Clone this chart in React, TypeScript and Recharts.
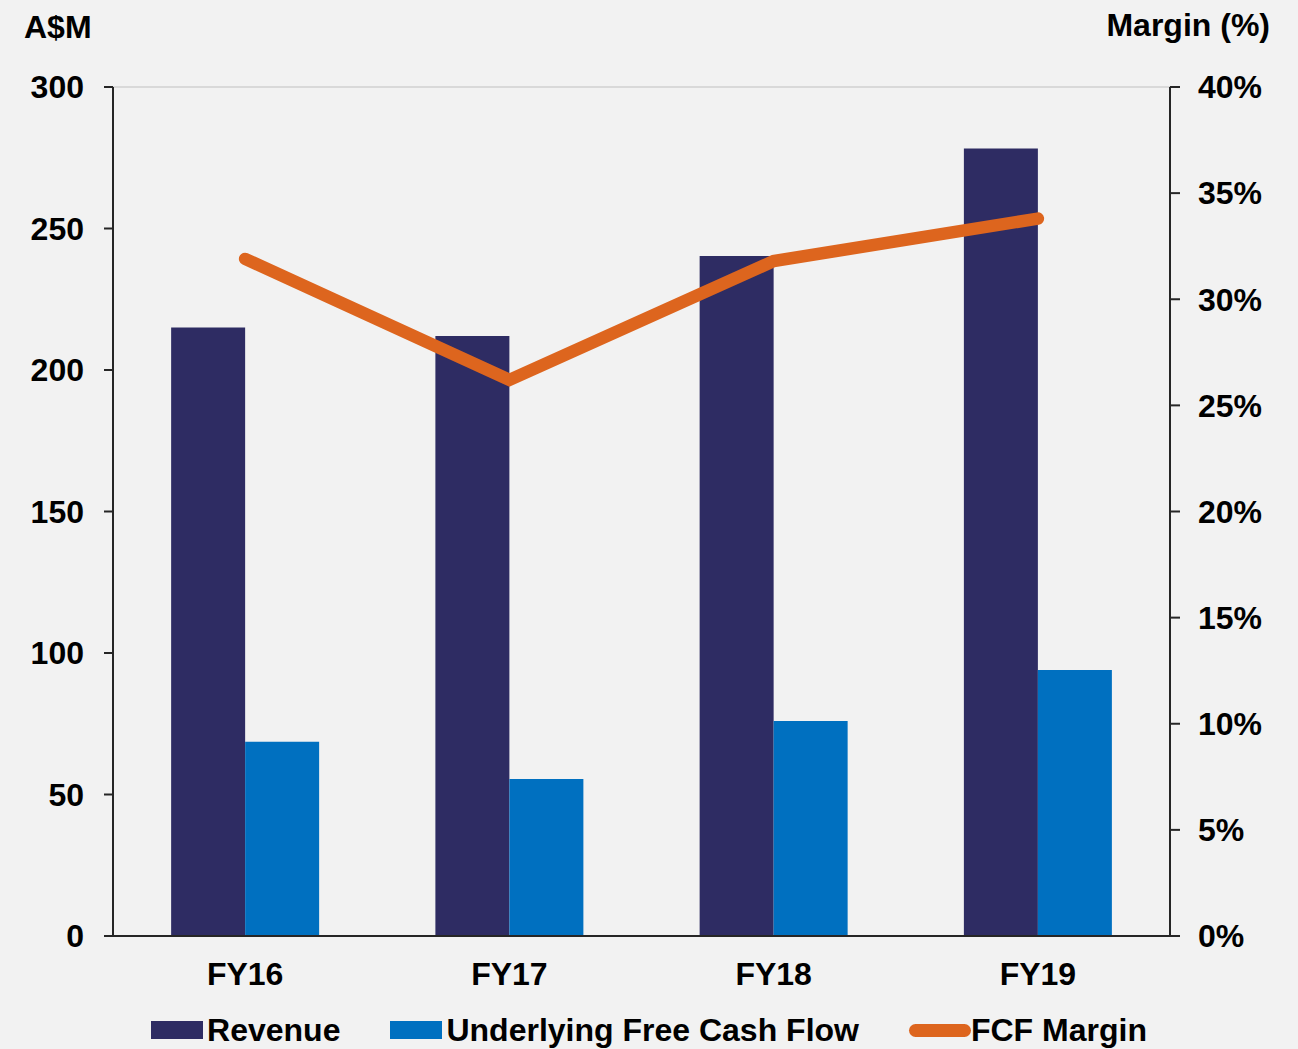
import React from 'react';
import { ComposedChart, Bar, Line, XAxis, YAxis, CartesianGrid } from 'recharts';

const years = ['FY16', 'FY17', 'FY18', 'FY19'];
const revenue = [215, 212, 240.3, 278.3];
const freeCashFlow = [68.6, 55.5, 76, 94];
const fcfMargin = [31.9, 26.2, 31.8, 33.8];

const leftTicks = [0, 50, 100, 150, 200, 250, 300];
const rightTicks = [0, 5, 10, 15, 20, 25, 30, 35, 40];

const NAVY = '#2e2c63';
const BLUE = '#0070c0';
const ORANGE = '#dd651e';
const AXIS = '#262626';
const FONT = '"Liberation Sans", Arial, sans-serif';

const data = years.map((year, i) => ({
  year,
  revenue: revenue[i],
  fcf: freeCashFlow[i],
  margin: fcfMargin[i],
}));

const tickStyle = { fill: '#000', fontSize: 32, fontWeight: 700, fontFamily: FONT };

const legendItems = [
  { label: 'Revenue', color: NAVY, kind: 'bar' },
  { label: 'Underlying Free Cash Flow', color: BLUE, kind: 'bar' },
  { label: 'FCF Margin', color: ORANGE, kind: 'line' },
];

export default function App() {
  return (
    <div
      style={{
        position: 'fixed',
        top: 0,
        left: 0,
        width: 1298,
        height: 1049,
        background: '#f2f2f2',
        fontFamily: FONT,
        overflow: 'hidden',
      }}
    >
      {/* axis titles */}
      <div style={{ position: 'absolute', left: 24, top: 9, fontSize: 32, fontWeight: 700 }}>A$M</div>
      <div style={{ position: 'absolute', right: 28, top: 7, fontSize: 32, fontWeight: 700 }}>Margin (%)</div>

      <ComposedChart
        width={1298}
        height={1049}
        data={data}
        margin={{ top: 87, right: 48, left: 33, bottom: 53 }}
        barCategoryGap="22%"
        barGap={0}
      >
        <CartesianGrid vertical={false} stroke="#d9d9d9" strokeWidth={2} />
        <XAxis
          dataKey="year"
          tick={tickStyle}
          tickLine={false}
          tickSize={0}
          tickMargin={26}
          height={60}
          axisLine={{ stroke: AXIS, strokeWidth: 2 }}
        />
        <YAxis
          yAxisId="left"
          domain={[0, 300]}
          ticks={leftTicks}
          width={80}
          tick={tickStyle}
          tickSize={9}
          tickMargin={20}
          tickLine={{ stroke: AXIS, strokeWidth: 2 }}
          axisLine={{ stroke: AXIS, strokeWidth: 2 }}
        />
        <YAxis
          yAxisId="right"
          orientation="right"
          domain={[0, 40]}
          ticks={rightTicks}
          tickFormatter={(v) => `${v}%`}
          width={80}
          tick={{ ...tickStyle, textAnchor: 'start' }}
          tickSize={10}
          tickMargin={18}
          tickLine={{ stroke: AXIS, strokeWidth: 2 }}
          axisLine={{ stroke: AXIS, strokeWidth: 2 }}
        />
        <Bar yAxisId="left" dataKey="revenue" fill={NAVY} isAnimationActive={false} />
        <Bar yAxisId="left" dataKey="fcf" fill={BLUE} isAnimationActive={false} />
        <Line
          yAxisId="right"
          dataKey="margin"
          stroke={ORANGE}
          strokeWidth={12.5}
          strokeLinecap="round"
          strokeLinejoin="miter"
          dot={false}
          activeDot={false}
          isAnimationActive={false}
        />
      </ComposedChart>

      {/* legend */}
      <div
        style={{
          position: 'absolute',
          top: 1011,
          left: 0,
          width: 1298,
          display: 'flex',
          justifyContent: 'center',
          alignItems: 'center',
          gap: 50,
          fontSize: 32,
          fontWeight: 700,
          lineHeight: '38px',
        }}
      >
        {legendItems.map((item) => (
          <div key={item.label} style={{ display: 'flex', alignItems: 'center' }}>
            {item.kind === 'bar' ? (
              <div style={{ width: 52, height: 18, background: item.color, marginRight: 4 }} />
            ) : (
              <div style={{ width: 62, height: 13, borderRadius: 7, background: item.color }} />
            )}
            <span>{item.label}</span>
          </div>
        ))}
      </div>
    </div>
  );
}
